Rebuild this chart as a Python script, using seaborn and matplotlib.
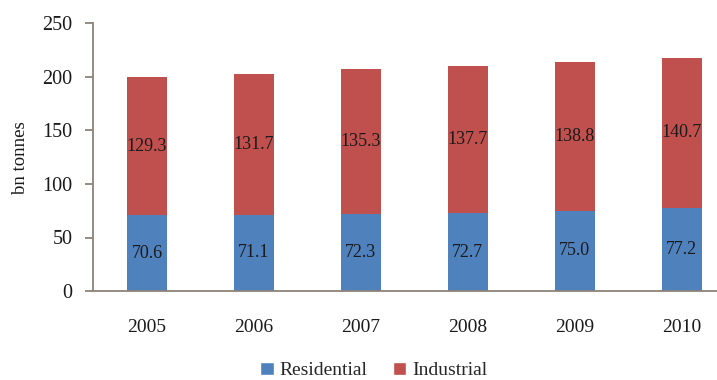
import matplotlib
matplotlib.use("Agg")
import matplotlib.pyplot as plt
import seaborn as sns
import pandas as pd
from matplotlib.patches import Patch

years = ["2005", "2006", "2007", "2008", "2009", "2010"]
residential = [70.6, 71.1, 72.3, 72.7, 75.0, 77.2]
industrial = [129.3, 131.7, 135.3, 137.7, 138.8, 140.7]
series_names = ["Residential", "Industrial"]
yticks = [0, 50, 100, 150, 200, 250]

sns.set_theme(style="white")
plt.rcParams["font.family"] = ["Liberation Serif", "DejaVu Serif"]

blue = "#4F81BD"
red = "#C0504D"
axcol = "#8C8279"
txt = "#1a1a1a"

df = pd.DataFrame({"year": years, "Residential": residential, "Industrial": industrial})

fig = plt.figure(figsize=(7.17, 3.8), dpi=100)
ax = fig.add_axes([0.1304, 0.234, 0.895, 0.705])

sns.barplot(data=df, x="year", y="Residential", color=blue, width=0.375,
            saturation=1, linewidth=0, ax=ax)
sns.barplot(data=df, x="year", y="Industrial", color=red, width=0.375,
            saturation=1, linewidth=0, bottom=df["Residential"], ax=ax)

for i, (r, ind) in enumerate(zip(residential, industrial)):
    ax.text(i, r / 2, f"{r:.1f}", ha="center", va="center", fontsize=13, color=txt)
    ax.text(i, r + ind / 2, f"{ind:.1f}", ha="center", va="center", fontsize=13, color=txt)

ax.set_xlim(-0.5, 5.5)
ax.set_ylim(0, 250)
ax.set_yticks(yticks)
ax.set_xlabel("")
ax.set_ylabel("bn tonnes", fontsize=13.5, color=txt, labelpad=10)
ax.tick_params(axis="y", left=True, length=6, width=1.3, color=axcol, labelsize=14.5,
               labelcolor=txt, pad=9)
ax.tick_params(axis="x", bottom=False, labelsize=14, labelcolor=txt, pad=14)
for s in ["top", "right"]:
    ax.spines[s].set_visible(False)
for s in ["left", "bottom"]:
    ax.spines[s].set_color(axcol)
    ax.spines[s].set_linewidth(1.3)

handles = [Patch(facecolor=blue, label=series_names[0]),
           Patch(facecolor=red, label=series_names[1])]
fig.legend(handles=handles, loc="center", bbox_to_anchor=(0.521, 0.025), ncol=2,
           frameon=False, fontsize=14, handlelength=0.7, handleheight=0.7,
           handletextpad=0.3, columnspacing=1.3)

fig.savefig("out.png", dpi=100)
